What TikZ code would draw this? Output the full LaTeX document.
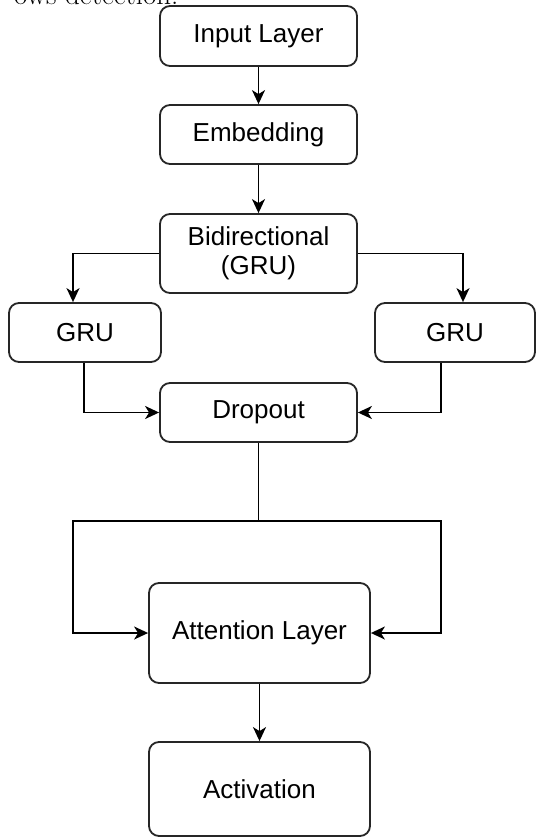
\documentclass[tikz,border=0pt]{standalone}
\usepackage{fontspec}
\setmainfont{Liberation Sans}
\newfontfamily\capfont{Latin Modern Roman}
\usetikzlibrary{arrows.meta}
\begin{document}
\begin{tikzpicture}[x=1pt,y=-1pt,
  box/.style={draw=black!85, line width=1.8pt, rounded corners=10pt, inner sep=0pt,
    font=\fontsize{26}{31}\selectfont, align=center, fill=white},
  conn/.style={line width=1.8pt, draw=black, -{Stealth[length=14pt,width=13pt,inset=4pt]}},
  plain/.style={line width=1.8pt, draw=black}]
\useasboundingbox (0,0) rectangle (537,839);
\clip (0,0) rectangle (537,839);
\node[anchor=base east, font=\capfont\fontsize{29}{30}\selectfont] (cap) at (182,4) {ows detection.};
\node[box, minimum width=197pt, minimum height=60pt] (inp) at (258.5,36) {Input Layer};
\node[box, minimum width=197pt, minimum height=59pt] (emb) at (258.5,134.5) {Embedding};
\node[box, minimum width=197pt, minimum height=79pt] (bid) at (258.5,253.5) {Bidirectional\\[-2pt](GRU)};
\node[box, minimum width=152pt, minimum height=59pt] (gl) at (85,332.5) {GRU};
\node[box, minimum width=160pt, minimum height=59pt] (gr) at (455,332.5) {GRU};
\node[box, minimum width=197pt, minimum height=59pt] (drop) at (258.5,412.5) {Dropout};
\node[box, minimum width=221pt, minimum height=100pt] (att) at (259.5,633) {Attention Layer};
\node[box, minimum width=221pt, minimum height=94pt] (act) at (259.5,789) {Activation};
\coordinate (split) at (258.5,521);
\coordinate (lcol) at (73,0);
\coordinate (rcol) at (463,0);
\coordinate (lbot) at (84,0);
\coordinate (rbot) at (441,0);
\coordinate (lout) at (73,521);
\coordinate (rout) at (441,521);
\draw[conn] (inp) -- (emb);
\draw[conn] (emb) -- (bid);
\draw[conn] (bid.west) -| (gl.north -| lcol);
\draw[conn] (bid.east) -| (gr.north -| rcol);
\draw[conn] (gl.south -| lbot) |- (drop.west);
\draw[conn] (gr.south -| rbot) |- (drop.east);
\draw[plain] (drop.south) -- (split);
\draw[conn] (split) -- (lout) |- (att.west);
\draw[conn] (split) -- (rout) |- (att.east);
\draw[conn] (att) -- (act);
\end{tikzpicture}
\end{document}
